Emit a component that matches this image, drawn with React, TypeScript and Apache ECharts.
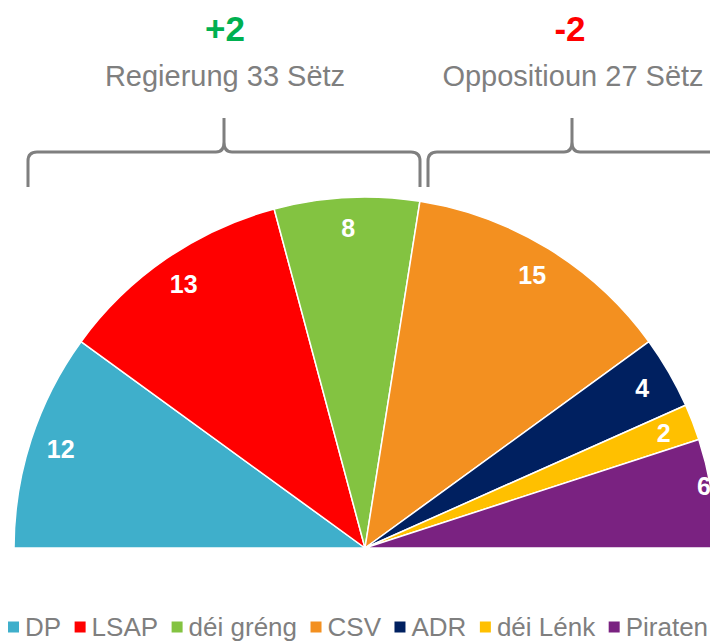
import React, { useEffect, useRef } from 'react';
import * as echarts from 'echarts';

const parties = ['DP', 'LSAP', 'déi gréng', 'CSV', 'ADR', 'déi Lénk', 'Piraten'];
const seats = [12, 13, 8, 15, 4, 2, 6];
const partyColors = ['#3FAFCB', '#FF0000', '#83C341', '#F39020', '#002060', '#FFC000', '#7A2281'];
const blocLabels = ['Regierung 33 Sëtz', 'Oppositioun 27 Sëtz'];
const blocChanges = ['+2', '-2'];
const changeColors = ['#00B050', '#FF0000'];

const FONT = "'Liberation Sans', Arial, sans-serif";

const leftBrace =
  'M 28 187 L 28 161 Q 28 152 37 152 L 216 152 Q 224 152 224 142 L 224 118 L 224 142 Q 224 152 232 152 L 411 152 Q 420 152 420 161 L 420 187';
const rightBrace =
  'M 428 187 L 428 161 Q 428 152 437 152 L 564 152 Q 572 152 572 142 L 572 118 L 572 142 Q 572 152 580 152 L 730 152';

echarts.graphic.registerShape('leftBrace', echarts.graphic.extendPath(leftBrace, {}));
echarts.graphic.registerShape('rightBrace', echarts.graphic.extendPath(rightBrace, {}));

export default function App() {
  const ref = useRef<HTMLDivElement>(null);
  useEffect(() => {
    if (!ref.current) return;
    const chart = echarts.init(ref.current, undefined, { renderer: 'svg' });
    const total = seats.reduce((a, b) => a + b, 0);
    const center = [365, 548];
    const R = 351;
    const mainData: any[] = parties.map((p, i) => ({
      name: p,
      value: seats[i],
      itemStyle: { color: partyColors[i] },
    }));
    mainData.push({
      name: '__hidden',
      value: total,
      itemStyle: { color: 'rgba(0,0,0,0)', borderWidth: 0 },
      label: { show: false },
    });
    const labelData: any[] = parties.map((p, i) => ({
      name: p,
      value: seats[i],
      label: p === 'Piraten' ? { offset: [23, -12] } : undefined,
    }));
    labelData.push({ name: '__hidden', value: total, label: { show: false } });

    const option: any = {
      animation: false,
      legend: {
        data: parties,
        left: 8,
        top: 614,
        icon: 'rect',
        itemWidth: 11,
        itemHeight: 11,
        itemGap: 13.5,
        padding: 0,
        selectedMode: false,
        itemStyle: { borderWidth: 0 },
        textStyle: { fontSize: 26, color: '#7F7F7F', fontFamily: FONT, padding: [0, 0, 0, 1] },
      },
      series: [
        {
          type: 'pie',
          center,
          radius: [0, R],
          startAngle: 180,
          clockwise: true,
          silent: true,
          avoidLabelOverlap: false,
          label: { show: false },
          labelLine: { show: false },
          itemStyle: { borderColor: '#FFFFFF', borderWidth: 1.5 },
          emphasis: { disabled: true },
          data: mainData,
        },
        {
          type: 'pie',
          center,
          radius: [283, R],
          startAngle: 180,
          clockwise: true,
          silent: true,
          avoidLabelOverlap: false,
          itemStyle: { color: 'rgba(0,0,0,0)', borderWidth: 0 },
          label: {
            show: true,
            position: 'inside',
            formatter: '{c}',
            color: '#FFFFFF',
            fontWeight: 'bold',
            fontSize: 25,
            fontFamily: FONT,
          },
          labelLine: { show: false },
          emphasis: { disabled: true },
          data: labelData,
        },
      ],
      graphic: [
        {
          type: 'leftBrace',
          shape: {},
          style: { stroke: '#7F7F7F', fill: 'none', lineWidth: 3 },
        },
        {
          type: 'rightBrace',
          shape: {},
          style: { stroke: '#7F7F7F', fill: 'none', lineWidth: 3 },
        },
        {
          type: 'text',
          x: 225,
          y: 28,
          style: {
            text: blocChanges[0],
            fill: changeColors[0],
            font: `bold 35px ${FONT}`,
            textAlign: 'center',
            textVerticalAlign: 'middle',
          },
        },
        {
          type: 'text',
          x: 570,
          y: 28,
          style: {
            text: blocChanges[1],
            fill: changeColors[1],
            font: `bold 35px ${FONT}`,
            textAlign: 'center',
            textVerticalAlign: 'middle',
          },
        },
        {
          type: 'text',
          x: 225,
          y: 76,
          style: {
            text: blocLabels[0],
            fill: '#7F7F7F',
            font: `29px ${FONT}`,
            textAlign: 'center',
            textVerticalAlign: 'middle',
          },
        },
        {
          type: 'text',
          x: 573,
          y: 76,
          style: {
            text: blocLabels[1],
            fill: '#7F7F7F',
            font: `29px ${FONT}`,
            textAlign: 'center',
            textVerticalAlign: 'middle',
          },
        },
      ],
    };
    chart.setOption(option);
    return () => chart.dispose();
  }, []);
  return (
    <div
      ref={ref}
      style={{ position: 'fixed', left: 0, top: 0, width: 710, height: 643, background: '#FFFFFF' }}
    />
  );
}
